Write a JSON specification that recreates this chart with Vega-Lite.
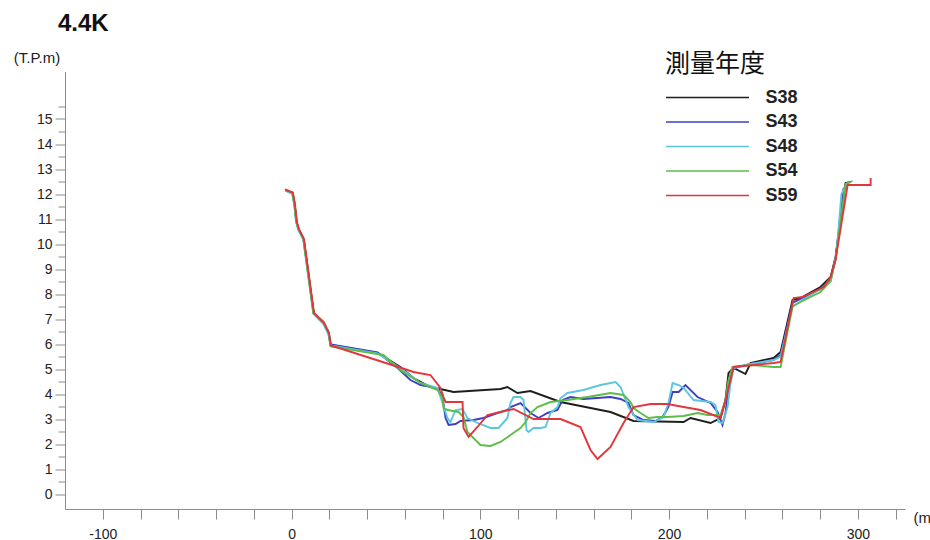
{
  "$schema": "https://vega.github.io/schema/vega-lite/v6.json",
  "width": 840,
  "height": 437.5,
  "autosize": {"type": "none"},
  "padding": {"left": 65, "top": 71.5, "right": 25, "bottom": 31},
  "background": "white",
  "title": {"text": "4.4K", "anchor": "start", "frame": "group", "fontSize": 24, "fontWeight": "bold", "font": "Liberation Sans", "color": "#111111", "dx": -7, "offset": 20, "dy": 25, "baseline": "alphabetic"},
  "config": {"view": {"stroke": null}},
  "data": {"values": [
    {"s":"S38","i":0,"x":-3.2,"y":12.16},{"s":"S38","i":1,"x":0.5,"y":12.04},{"s":"S38","i":2,"x":1.6,"y":11.6},{"s":"S38","i":3,"x":2.6,"y":10.9},{"s":"S38","i":4,"x":3.7,"y":10.6},{"s":"S38","i":5,"x":6.4,"y":10.2},{"s":"S38","i":6,"x":11.7,"y":7.24},{"s":"S38","i":7,"x":17.0,"y":6.84},{"s":"S38","i":8,"x":19.6,"y":6.44},{"s":"S38","i":9,"x":20.7,"y":5.96},{"s":"S38","i":10,"x":45.6,"y":5.64},{"s":"S38","i":11,"x":57.7,"y":5.08},{"s":"S38","i":12,"x":64.6,"y":4.64},{"s":"S38","i":13,"x":73.6,"y":4.28},{"s":"S38","i":14,"x":78.9,"y":4.2},{"s":"S38","i":15,"x":85.8,"y":4.08},{"s":"S38","i":16,"x":110.7,"y":4.2},{"s":"S38","i":17,"x":114.4,"y":4.28},{"s":"S38","i":18,"x":119.7,"y":4.04},{"s":"S38","i":19,"x":126.6,"y":4.12},{"s":"S38","i":20,"x":142.5,"y":3.68},{"s":"S38","i":21,"x":169,"y":3.28},{"s":"S38","i":22,"x":181.2,"y":2.92},{"s":"S38","i":23,"x":207.7,"y":2.88},{"s":"S38","i":24,"x":211.4,"y":3.04},{"s":"S38","i":25,"x":222,"y":2.84},{"s":"S38","i":26,"x":227.3,"y":3.04},{"s":"S38","i":27,"x":229.9,"y":3.76},{"s":"S38","i":28,"x":231.5,"y":4.84},{"s":"S38","i":29,"x":234.2,"y":5.04},{"s":"S38","i":30,"x":240.5,"y":4.8},{"s":"S38","i":31,"x":243.2,"y":5.24},{"s":"S38","i":32,"x":255.4,"y":5.44},{"s":"S38","i":33,"x":259.1,"y":5.68},{"s":"S38","i":34,"x":265.4,"y":7.76},{"s":"S38","i":35,"x":269.6,"y":7.84},{"s":"S38","i":36,"x":280.2,"y":8.28},{"s":"S38","i":37,"x":285.6,"y":8.68},{"s":"S38","i":38,"x":288.2,"y":9.48},{"s":"S38","i":39,"x":293.5,"y":12.44},{"s":"S38","i":40,"x":296.2,"y":12.48},

    {"s":"S43","i":0,"x":-3.0,"y":12.14},{"s":"S43","i":1,"x":0.6,"y":12.02},{"s":"S43","i":2,"x":1.7,"y":11.58},{"s":"S43","i":3,"x":2.7,"y":10.88},{"s":"S43","i":4,"x":3.8,"y":10.58},{"s":"S43","i":5,"x":6.5,"y":10.18},{"s":"S43","i":6,"x":11.8,"y":7.22},{"s":"S43","i":7,"x":17.1,"y":6.82},{"s":"S43","i":8,"x":19.7,"y":6.42},{"s":"S43","i":9,"x":20.8,"y":5.98},{"s":"S43","i":10,"x":45.6,"y":5.66},{"s":"S43","i":11,"x":56.2,"y":5.04},{"s":"S43","i":12,"x":63,"y":4.56},{"s":"S43","i":13,"x":68.3,"y":4.36},{"s":"S43","i":14,"x":77.4,"y":4.24},{"s":"S43","i":15,"x":80,"y":3.88},{"s":"S43","i":16,"x":81.6,"y":3.04},{"s":"S43","i":17,"x":83.2,"y":2.76},{"s":"S43","i":18,"x":86.9,"y":2.8},{"s":"S43","i":19,"x":89.5,"y":2.92},{"s":"S43","i":20,"x":96.4,"y":2.96},{"s":"S43","i":21,"x":101.7,"y":3.04},{"s":"S43","i":22,"x":109.1,"y":3.24},{"s":"S43","i":23,"x":114.4,"y":3.36},{"s":"S43","i":24,"x":116,"y":3.48},{"s":"S43","i":25,"x":121.3,"y":3.64},{"s":"S43","i":26,"x":124,"y":3.44},{"s":"S43","i":27,"x":126.6,"y":3.24},{"s":"S43","i":28,"x":130.9,"y":3.04},{"s":"S43","i":29,"x":135.6,"y":3.24},{"s":"S43","i":30,"x":140.9,"y":3.36},{"s":"S43","i":31,"x":143.6,"y":3.76},{"s":"S43","i":32,"x":147.8,"y":3.88},{"s":"S43","i":33,"x":154.7,"y":3.8},{"s":"S43","i":34,"x":169,"y":3.88},{"s":"S43","i":35,"x":174.3,"y":3.8},{"s":"S43","i":36,"x":178.5,"y":3.64},{"s":"S43","i":37,"x":181.2,"y":3.16},{"s":"S43","i":38,"x":186.5,"y":2.96},{"s":"S43","i":39,"x":192.8,"y":2.92},{"s":"S43","i":40,"x":196.6,"y":3.08},{"s":"S43","i":41,"x":199.7,"y":3.48},{"s":"S43","i":42,"x":201.9,"y":4.08},{"s":"S43","i":43,"x":205.1,"y":4.08},{"s":"S43","i":44,"x":208.7,"y":4.36},{"s":"S43","i":45,"x":215.1,"y":3.88},{"s":"S43","i":46,"x":222,"y":3.64},{"s":"S43","i":47,"x":225.7,"y":3.28},{"s":"S43","i":48,"x":228.3,"y":2.76},{"s":"S43","i":49,"x":229.9,"y":3.24},{"s":"S43","i":50,"x":231.5,"y":4.28},{"s":"S43","i":51,"x":233.6,"y":4.96},{"s":"S43","i":52,"x":236.3,"y":5.08},{"s":"S43","i":53,"x":243.2,"y":5.2},{"s":"S43","i":54,"x":255.4,"y":5.36},{"s":"S43","i":55,"x":259.1,"y":5.56},{"s":"S43","i":56,"x":265.4,"y":7.64},{"s":"S43","i":57,"x":269.6,"y":7.8},{"s":"S43","i":58,"x":280.2,"y":8.2},{"s":"S43","i":59,"x":285.6,"y":8.6},{"s":"S43","i":60,"x":288.2,"y":9.4},{"s":"S43","i":61,"x":292.4,"y":12.2},{"s":"S43","i":62,"x":295.1,"y":12.4},

    {"s":"S48","i":0,"x":-3.1,"y":12.12},{"s":"S48","i":1,"x":0.4,"y":12.0},{"s":"S48","i":2,"x":1.5,"y":11.56},{"s":"S48","i":3,"x":2.5,"y":10.86},{"s":"S48","i":4,"x":3.6,"y":10.56},{"s":"S48","i":5,"x":6.3,"y":10.16},{"s":"S48","i":6,"x":11.6,"y":7.2},{"s":"S48","i":7,"x":16.9,"y":6.8},{"s":"S48","i":8,"x":19.5,"y":6.4},{"s":"S48","i":9,"x":20.6,"y":5.94},{"s":"S48","i":10,"x":45.6,"y":5.62},{"s":"S48","i":11,"x":57.7,"y":5.04},{"s":"S48","i":12,"x":68.3,"y":4.44},{"s":"S48","i":13,"x":77.4,"y":4.24},{"s":"S48","i":14,"x":78.9,"y":3.88},{"s":"S48","i":15,"x":80,"y":3.64},{"s":"S48","i":16,"x":82.6,"y":3.04},{"s":"S48","i":17,"x":84.2,"y":2.88},{"s":"S48","i":18,"x":86.9,"y":3.36},{"s":"S48","i":19,"x":90.6,"y":3.4},{"s":"S48","i":20,"x":93.2,"y":3.04},{"s":"S48","i":21,"x":98.5,"y":2.84},{"s":"S48","i":22,"x":105.4,"y":2.64},{"s":"S48","i":23,"x":109.7,"y":2.64},{"s":"S48","i":24,"x":114.4,"y":3.04},{"s":"S48","i":25,"x":116,"y":3.64},{"s":"S48","i":26,"x":117.6,"y":3.88},{"s":"S48","i":27,"x":121.3,"y":3.88},{"s":"S48","i":28,"x":122.9,"y":3.76},{"s":"S48","i":29,"x":124.5,"y":2.56},{"s":"S48","i":30,"x":125.6,"y":2.48},{"s":"S48","i":31,"x":128.2,"y":2.64},{"s":"S48","i":32,"x":131.9,"y":2.64},{"s":"S48","i":33,"x":134.6,"y":2.68},{"s":"S48","i":34,"x":137.2,"y":3.24},{"s":"S48","i":35,"x":140.9,"y":3.48},{"s":"S48","i":36,"x":142.5,"y":3.84},{"s":"S48","i":37,"x":146.2,"y":4.04},{"s":"S48","i":38,"x":154.7,"y":4.16},{"s":"S48","i":39,"x":163.7,"y":4.36},{"s":"S48","i":40,"x":171.7,"y":4.48},{"s":"S48","i":41,"x":174.3,"y":4.28},{"s":"S48","i":42,"x":178.5,"y":3.48},{"s":"S48","i":43,"x":183.3,"y":2.96},{"s":"S48","i":44,"x":191.8,"y":2.88},{"s":"S48","i":45,"x":197.1,"y":3.08},{"s":"S48","i":46,"x":199.7,"y":3.64},{"s":"S48","i":47,"x":201.9,"y":4.44},{"s":"S48","i":48,"x":205.1,"y":4.36},{"s":"S48","i":49,"x":207.7,"y":4.24},{"s":"S48","i":50,"x":213,"y":3.76},{"s":"S48","i":51,"x":222,"y":3.68},{"s":"S48","i":52,"x":224.6,"y":3.56},{"s":"S48","i":53,"x":226.2,"y":2.88},{"s":"S48","i":54,"x":228.3,"y":2.84},{"s":"S48","i":55,"x":231,"y":3.48},{"s":"S48","i":56,"x":232.6,"y":4.44},{"s":"S48","i":57,"x":234.2,"y":5.04},{"s":"S48","i":58,"x":243.2,"y":5.2},{"s":"S48","i":59,"x":255.4,"y":5.36},{"s":"S48","i":60,"x":259.1,"y":5.5},{"s":"S48","i":61,"x":265.4,"y":7.5},{"s":"S48","i":62,"x":269.6,"y":7.7},{"s":"S48","i":63,"x":280.2,"y":8.2},{"s":"S48","i":64,"x":285.6,"y":8.5},{"s":"S48","i":65,"x":288.7,"y":9.6},{"s":"S48","i":66,"x":291.3,"y":12.0},{"s":"S48","i":67,"x":295.1,"y":12.5},

    {"s":"S54","i":0,"x":-3.6,"y":12.2},{"s":"S54","i":1,"x":0.3,"y":12.06},{"s":"S54","i":2,"x":1.4,"y":11.62},{"s":"S54","i":3,"x":2.4,"y":10.92},{"s":"S54","i":4,"x":3.5,"y":10.62},{"s":"S54","i":5,"x":6.2,"y":10.22},{"s":"S54","i":6,"x":11.5,"y":7.26},{"s":"S54","i":7,"x":17.0,"y":6.9},{"s":"S54","i":8,"x":19.7,"y":6.5},{"s":"S54","i":9,"x":20.7,"y":5.9},{"s":"S54","i":10,"x":48.7,"y":5.56},{"s":"S54","i":11,"x":57.7,"y":4.96},{"s":"S54","i":12,"x":68.3,"y":4.44},{"s":"S54","i":13,"x":77.4,"y":4.16},{"s":"S54","i":14,"x":80,"y":3.84},{"s":"S54","i":15,"x":80.5,"y":3.44},{"s":"S54","i":16,"x":82.6,"y":3.36},{"s":"S54","i":17,"x":88.5,"y":3.28},{"s":"S54","i":18,"x":91.1,"y":3.08},{"s":"S54","i":19,"x":93.2,"y":2.48},{"s":"S54","i":20,"x":100.1,"y":1.96},{"s":"S54","i":21,"x":105.4,"y":1.92},{"s":"S54","i":22,"x":110.7,"y":2.08},{"s":"S54","i":23,"x":116,"y":2.36},{"s":"S54","i":24,"x":121.3,"y":2.64},{"s":"S54","i":25,"x":124,"y":2.88},{"s":"S54","i":26,"x":126.6,"y":3.24},{"s":"S54","i":27,"x":130.3,"y":3.48},{"s":"S54","i":28,"x":137.2,"y":3.68},{"s":"S54","i":29,"x":146.2,"y":3.76},{"s":"S54","i":30,"x":156.8,"y":3.88},{"s":"S54","i":31,"x":169,"y":4.04},{"s":"S54","i":32,"x":175.9,"y":3.96},{"s":"S54","i":33,"x":179.6,"y":3.68},{"s":"S54","i":34,"x":181.2,"y":3.44},{"s":"S54","i":35,"x":184.9,"y":3.24},{"s":"S54","i":36,"x":189.1,"y":3.04},{"s":"S54","i":37,"x":193.9,"y":3.08},{"s":"S54","i":38,"x":199.2,"y":3.08},{"s":"S54","i":39,"x":207.7,"y":3.12},{"s":"S54","i":40,"x":215.1,"y":3.24},{"s":"S54","i":41,"x":220.4,"y":3.16},{"s":"S54","i":42,"x":227.3,"y":3.16},{"s":"S54","i":43,"x":229.9,"y":3.76},{"s":"S54","i":44,"x":231.5,"y":4.56},{"s":"S54","i":45,"x":233.6,"y":5.08},{"s":"S54","i":46,"x":243.2,"y":5.16},{"s":"S54","i":47,"x":255.4,"y":5.08},{"s":"S54","i":48,"x":259.1,"y":5.08},{"s":"S54","i":49,"x":265.4,"y":7.5},{"s":"S54","i":50,"x":269.6,"y":7.68},{"s":"S54","i":51,"x":280.2,"y":8.08},{"s":"S54","i":52,"x":285.6,"y":8.52},{"s":"S54","i":53,"x":288.2,"y":9.4},{"s":"S54","i":54,"x":293.5,"y":12.4},{"s":"S54","i":55,"x":297.2,"y":12.52},

    {"s":"S59","i":0,"x":-3.2,"y":12.16},{"s":"S59","i":1,"x":0.7,"y":12.06},{"s":"S59","i":2,"x":1.8,"y":11.6},{"s":"S59","i":3,"x":2.8,"y":10.9},{"s":"S59","i":4,"x":3.9,"y":10.6},{"s":"S59","i":5,"x":6.6,"y":10.2},{"s":"S59","i":6,"x":11.9,"y":7.24},{"s":"S59","i":7,"x":17.2,"y":6.84},{"s":"S59","i":8,"x":19.8,"y":6.44},{"s":"S59","i":9,"x":20.9,"y":5.94},{"s":"S59","i":10,"x":61.5,"y":4.96},{"s":"S59","i":11,"x":64.6,"y":4.88},{"s":"S59","i":12,"x":73.6,"y":4.76},{"s":"S59","i":13,"x":78.9,"y":4.24},{"s":"S59","i":14,"x":80.5,"y":3.88},{"s":"S59","i":15,"x":81.6,"y":3.68},{"s":"S59","i":16,"x":90.6,"y":3.68},{"s":"S59","i":17,"x":91.1,"y":2.64},{"s":"S59","i":18,"x":93.8,"y":2.28},{"s":"S59","i":19,"x":98.5,"y":2.68},{"s":"S59","i":20,"x":103.8,"y":3.16},{"s":"S59","i":21,"x":110.7,"y":3.28},{"s":"S59","i":22,"x":117.6,"y":3.4},{"s":"S59","i":23,"x":128.2,"y":3.0},{"s":"S59","i":24,"x":142.5,"y":3.0},{"s":"S59","i":25,"x":153.1,"y":2.68},{"s":"S59","i":26,"x":158.4,"y":1.76},{"s":"S59","i":27,"x":162.1,"y":1.4},{"s":"S59","i":28,"x":169,"y":1.88},{"s":"S59","i":29,"x":175.9,"y":2.84},{"s":"S59","i":30,"x":181.2,"y":3.48},{"s":"S59","i":31,"x":190.2,"y":3.6},{"s":"S59","i":32,"x":199.2,"y":3.6},{"s":"S59","i":33,"x":207.7,"y":3.48},{"s":"S59","i":34,"x":216.7,"y":3.36},{"s":"S59","i":35,"x":227.3,"y":3.04},{"s":"S59","i":36,"x":229.9,"y":3.76},{"s":"S59","i":37,"x":232.6,"y":4.56},{"s":"S59","i":38,"x":234.2,"y":5.08},{"s":"S59","i":39,"x":255.4,"y":5.24},{"s":"S59","i":40,"x":259.1,"y":5.28},{"s":"S59","i":41,"x":266,"y":7.84},{"s":"S59","i":42,"x":270.7,"y":7.88},{"s":"S59","i":43,"x":281.9,"y":8.28},{"s":"S59","i":44,"x":285.6,"y":8.68},{"s":"S59","i":45,"x":288.2,"y":9.36},{"s":"S59","i":46,"x":294.6,"y":12.36},{"s":"S59","i":47,"x":306.8,"y":12.36},{"s":"S59","i":48,"x":306.8,"y":12.64}
  ]},
  "mark": {"type": "line", "strokeWidth": 1.9},
  "encoding": {
    "x": {
      "field": "x", "type": "quantitative",
      "scale": {"domain": [-120, 325], "nice": false, "zero": false},
      "axis": {
        "values": [-100,-80,-60,-40,-20,0,20,40,60,80,100,120,140,160,180,200,220,240,260,280,300,320],
        "labelExpr": "datum.value % 100 === 0 ? '' + datum.value : ''",
        "grid": false, "tickSize": 10, "tickColor": "#8c8c8c", "domainColor": "#8c8c8c",
        "labelPadding": 8, "labelFont": "Liberation Sans", "labelFontSize": 14, "labelColor": "#222222",
        "labelOverlap": false, "labelFlush": false,
        "title": "(m)", "titleX": 848, "titleY": 8, "titleAlign": "left", "titleBaseline": "middle",
        "titleFont": "Liberation Sans", "titleFontSize": 15, "titleFontWeight": "normal", "titleColor": "#222222"
      }
    },
    "y": {
      "field": "y", "type": "quantitative",
      "scale": {"domain": [-0.6, 16.9], "nice": false, "zero": false},
      "axis": {
        "values": [0,0.5,1,1.5,2,2.5,3,3.5,4,4.5,5,5.5,6,6.5,7,7.5,8,8.5,9,9.5,10,10.5,11,11.5,12,12.5,13,13.5,14,14.5,15,15.5],
        "labelExpr": "datum.value % 1 === 0 ? '' + datum.value : ''",
        "grid": false,
        "tickSize": {"condition": {"test": "datum.value % 1 === 0", "value": 10}, "value": 7},
        "tickColor": "#8c8c8c", "domainColor": "#8c8c8c",
        "labelPadding": 3, "labelFont": "Liberation Sans", "labelFontSize": 14, "labelColor": "#222222",
        "labelOverlap": false, "labelFlush": false,
        "title": "(T.P.m)", "titleAngle": 0, "titleX": -28.5, "titleY": -14.5, "titleAlign": "center", "titleBaseline": "middle",
        "titleFont": "Liberation Sans", "titleFontSize": 15, "titleFontWeight": "normal", "titleColor": "#222222"
      }
    },
    "color": {
      "field": "s", "type": "nominal",
      "scale": {"domain": ["S38","S43","S48","S54","S59"], "range": ["#1e1e1e","#3d40c0","#5cc6df","#5cbd48","#e2353c"]},
      "legend": {
        "orient": "none", "legendX": 600, "legendY": -20, "padding": 0,
        "title": "測量年度", "titleFont": "Noto Sans CJK JP", "titleFontSize": 25, "titleFontWeight": "normal", "titleColor": "#111111", "titlePadding": 12,
        "labelFont": "Liberation Sans", "labelFontSize": 18, "labelFontWeight": "bold", "labelColor": "#222222",
        "symbolType": "M-5.93,0H5.93", "symbolSize": 196, "symbolStrokeWidth": 1.5,
        "symbolOffset": 33.5, "labelOffset": 49, "rowPadding": 6.5
      }
    },
    "order": {"field": "i", "type": "quantitative"}
  }
}
